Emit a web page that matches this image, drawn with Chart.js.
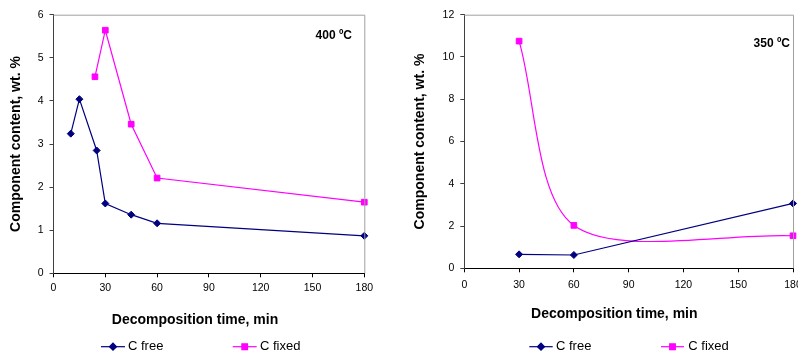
<!DOCTYPE html>
<html>
<head>
<meta charset="utf-8">
<script src="https://cdn.jsdelivr.net/npm/chart.js@4"></script>
<style>
    body { margin: 0; background: #fff; }
    .box { position: absolute; top: 0; }
</style>
</head>
<body>
<div class="box" style="left:0"><canvas id="chart-400" width="400" height="355"></canvas></div>
<div class="box" style="left:400px"><canvas id="chart-350" width="398" height="355"></canvas></div>
<script>
// 400 C run
const time400Free = [10, 15, 25, 30, 45, 60, 180];
const free400 = [3.24, 4.04, 2.85, 1.62, 1.36, 1.16, 0.87];
const time400Fixed = [24, 30, 45, 60, 180];
const fixed400 = [4.56, 5.64, 3.46, 2.21, 1.65];

// 350 C run
const time350 = [30, 60, 180];
const free350 = [0.66, 0.63, 3.07];
const fixed350 = [10.75, 2.03, 1.54];

// axes
const xMax = 180, xStep = 30;
const yMax400 = 6, yStep400 = 1;
const yMax350 = 12, yStep350 = 2;

const seriesNames = ['C free', 'C fixed'];
const xTitle = 'Decomposition time, min';
const yTitle = 'Component content, wt. %';

const NAVY = '#000080';
const MAGENTA = '#ff00ff';
const FONT = "'Liberation Sans', Arial, sans-serif";

Chart.defaults.font.family = FONT;
Chart.defaults.color = '#000';

const toPoints = (xs, ys) => xs.map((x, i) => ({ x: x, y: ys[i] }));

// draws the grey frame, temperature label, x title and legend
const extrasPlugin = {
    id: 'extras',
    afterDraw(chart, args, opts) {
        const ctx = chart.ctx;
        const a = chart.chartArea;
        ctx.save();
        ctx.strokeStyle = '#a0a0a0';
        ctx.lineWidth = 1;
        ctx.beginPath();
        ctx.moveTo(a.left, a.top + 0.5);
        ctx.lineTo(a.right + 0.5, a.top + 0.5);
        ctx.lineTo(a.right + 0.5, a.bottom);
        ctx.stroke();

        ctx.fillStyle = '#000';
        ctx.textBaseline = 'middle';
        ctx.font = 'bold 12px ' + FONT;
        ctx.textAlign = 'right';
        ctx.fillText(opts.temp, opts.tempX, opts.tempY);

        ctx.font = 'bold 14px ' + FONT;
        ctx.textAlign = 'center';
        ctx.fillText(xTitle, opts.titleX, opts.titleY);

        ctx.font = '13px ' + FONT;
        ctx.textAlign = 'left';
        chart.data.datasets.forEach((ds, i) => {
            const it = opts.legend[i];
            ctx.strokeStyle = ds.borderColor;
            ctx.fillStyle = ds.backgroundColor;
            ctx.lineWidth = 1.2;
            ctx.beginPath();
            ctx.moveTo(it[0], opts.legendY);
            ctx.lineTo(it[1], opts.legendY);
            ctx.stroke();
            Chart.helpers.drawPoint(ctx, {
                pointStyle: ds.pointStyle, radius: ds.pointRadius, borderWidth: 1, rotation: 0
            }, (it[0] + it[1]) / 2, opts.legendY);
            ctx.fillStyle = '#000';
            ctx.fillText(ds.label, it[2], opts.legendY);
        });
        ctx.restore();
    }
};

function buildChart(id, c) {
    new Chart(document.getElementById(id), {
        type: 'line',
        data: {
            datasets: [
                {
                    label: seriesNames[0],
                    data: toPoints(c.freeX, c.freeY),
                    borderColor: NAVY,
                    backgroundColor: NAVY,
                    borderWidth: 1.2,
                    pointStyle: 'rectRot',
                    pointRadius: 3.5,
                    pointBorderWidth: 1,
                    tension: 0,
                    clip: 8,
                },
                {
                    label: seriesNames[1],
                    data: toPoints(c.fixedX, c.fixedY),
                    borderColor: MAGENTA,
                    backgroundColor: MAGENTA,
                    borderWidth: 1.2,
                    pointStyle: 'rect',
                    pointRadius: 4,
                    pointBorderWidth: 1,
                    tension: c.tension,
                    clip: 8,
                },
            ],
        },
        options: {
            responsive: false,
            animation: false,
            layout: { padding: { top: c.top, right: c.right, left: 0, bottom: 0 } },
            plugins: {
                legend: { display: false },
                tooltip: { enabled: false },
                extras: c.extras,
            },
            scales: {
                x: {
                    type: 'linear',
                    min: 0,
                    max: xMax,
                    ticks: { stepSize: xStep, font: { size: 10.5 }, padding: c.xPad, maxRotation: 0 },
                    grid: { drawOnChartArea: false, tickLength: 4, color: '#000' },
                    border: { color: '#000' },
                    afterFit: (s) => {
                        s.height = c.xHeight;
                        s.paddingLeft = 0;
                        s.paddingRight = 0;
                    },
                },
                y: {
                    min: 0,
                    max: c.yMax,
                    ticks: { stepSize: c.yStep, font: { size: 10.5 }, padding: 6 },
                    grid: { drawOnChartArea: false, tickLength: 4, color: '#404040' },
                    border: { color: '#404040' },
                    title: {
                        display: true,
                        text: yTitle,
                        font: { size: 14, weight: 'bold' },
                        padding: { top: c.yTitlePad, bottom: 0 },
                    },
                    afterFit: (s) => {
                        s.width = c.yWidth;
                        s.paddingTop = 0;
                        s.paddingBottom = 0;
                    },
                },
            },
        },
        plugins: [extrasPlugin],
    });
}

document.addEventListener('DOMContentLoaded', () => {
    buildChart('chart-400', {
        freeX: time400Free, freeY: free400,
        fixedX: time400Fixed, fixedY: fixed400,
        tension: 0,
        yMax: yMax400, yStep: yStep400,
        top: 14.7, right: 35.7, yWidth: 53.5, xHeight: 81.7,
        xPad: 5, yTitlePad: 7.6,
        extras: {
            temp: '400 ºC', tempX: 352, tempY: 36,
            titleX: 195, titleY: 320,
            legendY: 346.7,
            legend: [[101, 125, 128], [232.7, 256.7, 260]],
        },
    });

    buildChart('chart-350', {
        freeX: time350, freeY: free350,
        fixedX: time350, fixedY: fixed350,
        tension: 0.3,
        yMax: yMax350, yStep: yStep350,
        top: 14.7, right: 4.7, yWidth: 64.3, xHeight: 86.7,
        xPad: 7, yTitlePad: 11.6,
        extras: {
            temp: '350 ºC', tempX: 390, tempY: 44,
            titleX: 214.3, titleY: 314,
            legendY: 346.7,
            legend: [[129.3, 152.7, 156], [261, 284, 288.3]],
        },
    });
});
</script>
</body>
</html>
